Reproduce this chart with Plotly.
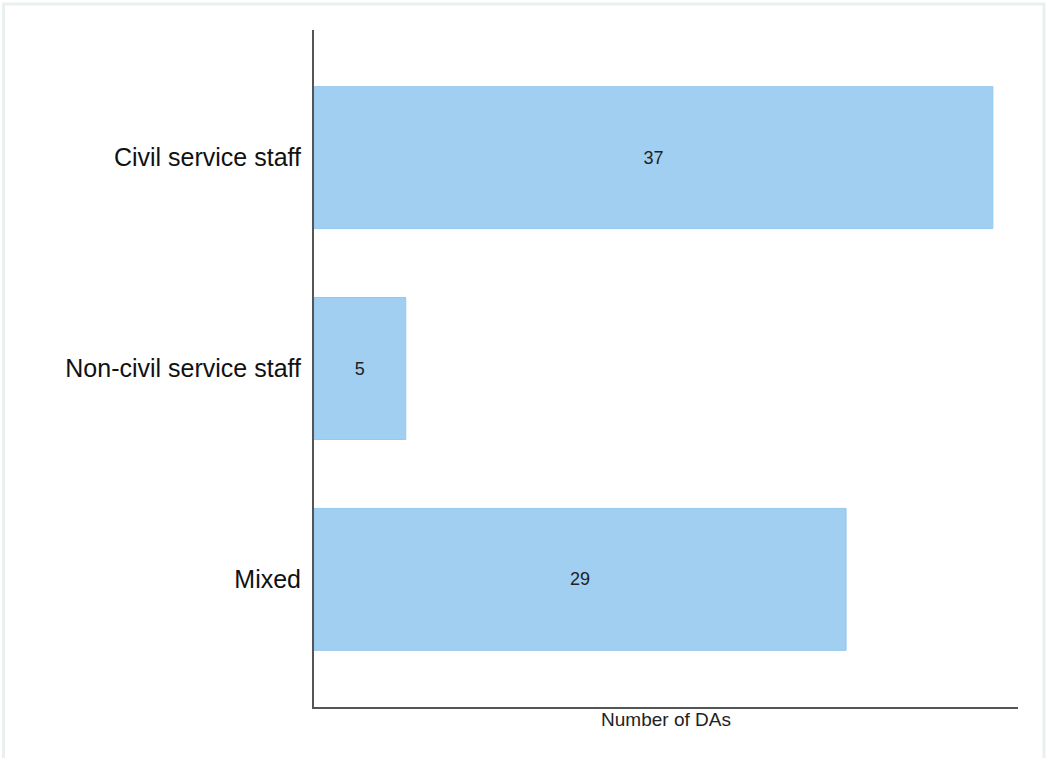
import plotly.graph_objects as go

categories = ["Civil service staff", "Non-civil service staff", "Mixed"]
values = [37, 5, 29]
x_title = "Number of DAs"

W, H = 1047, 758
L, T = 314, 30
R = W - 1018
B = H - 707
pw, ph = W - L - R, H - T - B

def px_x(p):
    return (p - L) / pw

def px_y(p):
    return (H - B - p) / ph

fig = go.Figure(go.Bar(
    x=values, y=categories, orientation="h", width=0.673,
    marker=dict(color="#A0CFF2", line=dict(color="#95C8EE", width=1)),
    text=[str(v) for v in values], textposition="inside", insidetextanchor="middle",
    textfont=dict(family="Liberation Sans, Arial", size=18, color="#222222"),
))

fig.update_layout(
    width=W, height=H,
    margin=dict(l=L, r=R, t=T, b=B),
    paper_bgcolor="white", plot_bgcolor="white",
    showlegend=False,
    font=dict(family="Liberation Sans, Arial", color="#111111"),
    xaxis=dict(range=[0, 38.37], showgrid=False, zeroline=False, showticklabels=False,
               ticks="", showline=True, linecolor="#555555", linewidth=2,
               title=dict(text=x_title, font=dict(size=19, color="#222222"), standoff=5)),
    yaxis=dict(categoryorder="array", categoryarray=categories, autorange=False,
               range=[2.605, -0.605], showgrid=False, zeroline=False, ticks="",
               showline=True, linecolor="#555555", linewidth=2,
               tickfont=dict(size=25, color="#111111"), ticklabelstandoff=6),
    shapes=[dict(type="rect", xref="paper", yref="paper",
                 x0=px_x(3.5), x1=px_x(1044), y0=px_y(770), y1=px_y(4),
                 line=dict(color="#E8F0F0", width=3), fillcolor="rgba(0,0,0,0)",
                 layer="below")],
)

fig.write_html("out.html", config={"displayModeBar": False},
               post_script="document.body.style.margin='0';document.body.style.overflow='hidden';")
